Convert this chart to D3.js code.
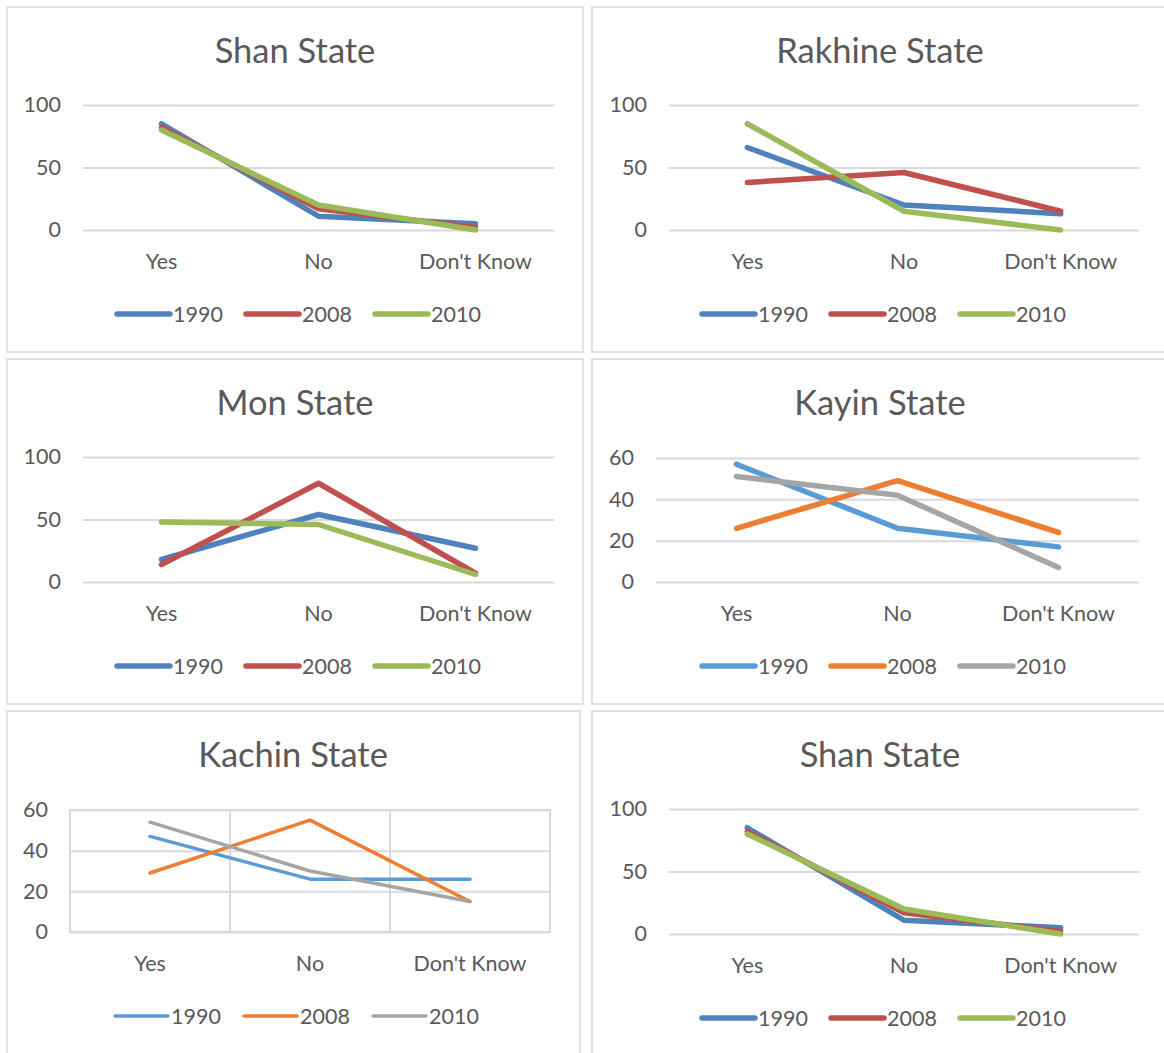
<!DOCTYPE html>
<html>
<head>
<meta charset="utf-8">
<script src="https://cdn.jsdelivr.net/npm/d3@7"></script>
<style>
  html, body { margin: 0; padding: 0; background: #ffffff; }
  svg { display: block; }
  text { font-family: "Lato", "Noto Sans", sans-serif; fill: #595959; }
</style>
</head>
<body>
<svg id="chart" width="1164" height="1053"></svg>
<script>
// Survey answers per state, three survey years
const categories = ["Yes", "No", "Don't Know"];
const years = ["1990", "2008", "2010"];

const shanValues    = [[85, 11, 5], [82, 17, 2], [80, 20, 0]];
const rakhineValues = [[66, 20, 13], [38, 46, 15], [85, 15, 0]];
const monValues     = [[18, 54, 27], [14, 79, 7], [48, 46, 6]];
const kayinValues   = [[57, 26, 17], [26, 49, 24], [51, 42, 7]];
const kachinValues  = [[47, 26, 26], [29, 55, 15], [54, 30, 15]];

const ticks100 = [0, 50, 100];
const ticks60  = [0, 20, 40, 60];

const paletteClassic = ["#4F81BD", "#C0504D", "#9BBB59"];
const paletteModern  = ["#5B9BD5", "#ED7D31", "#A5A5A5"];

// Layout of each panel (frame, plot area, text rows)
const panels = [
  { title: "Shan State",    values: shanValues,    ticks: ticks100, colors: paletteClassic, lw: 5.5,
    box: [7, 7, 576, 345],   plot: [83, 554, 105, 230],  titleY: 51,  labelY: 261, legendY: 314, cx: 299, boxed: false },
  { title: "Rakhine State", values: rakhineValues, ticks: ticks100, colors: paletteClassic, lw: 5.5,
    box: [592, 7, 580, 345], plot: [669, 1139, 105, 230], titleY: 51,  labelY: 261, legendY: 314, cx: 884, boxed: false },
  { title: "Mon State",     values: monValues,     ticks: ticks100, colors: paletteClassic, lw: 5.5,
    box: [7, 359, 576, 345], plot: [83, 554, 457, 582],  titleY: 403, labelY: 613, legendY: 666, cx: 299, boxed: false },
  { title: "Kayin State",   values: kayinValues,   ticks: ticks60,  colors: paletteModern,  lw: 5.5,
    box: [592, 359, 580, 345], plot: [656, 1139, 458, 582], titleY: 403, labelY: 613, legendY: 666, cx: 884, boxed: false },
  { title: "Kachin State",  values: kachinValues,  ticks: ticks60,  colors: paletteModern,  lw: 3.5,
    box: [7, 711, 573, 360], plot: [70, 550, 810, 932],  titleY: 755, labelY: 963, legendY: 1016, cx: 297, boxed: true },
  { title: "Shan State",    values: shanValues,    ticks: ticks100, colors: paletteClassic, lw: 5.5,
    box: [592, 711, 580, 360], plot: [669, 1139, 809, 934], titleY: 755, labelY: 965, legendY: 1018, cx: 884, boxed: false }
];

const svg = d3.select("#chart");
const grid = "#D9D9D9";
const titleSize = "34.5px";
const labelSize = "21.5px";

panels.forEach(p => {
  const g = svg.append("g");
  const [bx, by, bw, bh] = p.box;
  const [x0, x1, yTop, yBot] = p.plot;

  // panel frame
  g.append("rect")
    .attr("x", bx).attr("y", by).attr("width", bw).attr("height", bh)
    .attr("fill", "#fff").attr("stroke", grid).attr("stroke-width", 1.5);

  const x = d3.scaleBand().domain(categories).range([x0, x1]);
  const xc = c => x(c) + x.bandwidth() / 2;
  const y = d3.scaleLinear().domain([0, d3.max(p.ticks)]).range([yBot, yTop]);

  // title
  g.append("text")
    .attr("x", p.cx - 4)
    .attr("y", p.titleY).attr("dy", "0.35em")
    .attr("text-anchor", "middle")
    .style("font-size", titleSize)
    .text(p.title);

  // value axis with horizontal gridlines
  const yAxis = d3.axisLeft(y).tickValues(p.ticks).tickSize(-(x1 - x0)).tickPadding(22);
  const ya = g.append("g").attr("transform", `translate(${x0},0)`).call(yAxis);
  ya.select(".domain").remove();
  ya.selectAll(".tick line").attr("stroke", grid).attr("stroke-width", 2);
  ya.selectAll(".tick text").style("font-size", labelSize).attr("fill", "#595959");

  if (p.boxed) {
    // outlined plot area with vertical category gridlines
    g.append("rect")
      .attr("x", x0).attr("y", yTop).attr("width", x1 - x0).attr("height", yBot - yTop)
      .attr("fill", "none").attr("stroke", grid).attr("stroke-width", 2);
    g.selectAll(".vgrid").data(categories.slice(1)).join("line")
      .attr("x1", d => x(d)).attr("x2", d => x(d))
      .attr("y1", yTop).attr("y2", yBot)
      .attr("stroke", grid).attr("stroke-width", 2);
  }

  // category labels
  const xAxis = d3.axisBottom(x).tickSize(0).tickPadding(0);
  const xa = g.append("g").attr("transform", `translate(0,${p.labelY})`).call(xAxis);
  xa.select(".domain").remove();
  xa.selectAll(".tick text").attr("y", 0).attr("dy", "0.35em")
    .style("font-size", labelSize).attr("fill", "#595959");

  // series lines
  const line = d3.line().x((d, i) => xc(categories[i])).y(d => y(d));
  p.values.forEach((vals, si) => {
    g.append("path")
      .datum(vals)
      .attr("d", line)
      .attr("fill", "none")
      .attr("stroke", p.colors[si])
      .attr("stroke-width", p.lw)
      .attr("stroke-linecap", "round")
      .attr("stroke-linejoin", "round");
  });

  // legend
  const step = 129, sample = 53;
  const startX = p.cx - 182;
  years.forEach((yr, si) => {
    const lx = startX + si * step;
    g.append("line")
      .attr("x1", lx).attr("x2", lx + sample)
      .attr("y1", p.legendY).attr("y2", p.legendY)
      .attr("stroke", p.colors[si]).attr("stroke-width", p.lw)
      .attr("stroke-linecap", "round");
    g.append("text")
      .attr("x", lx + sample + 3).attr("y", p.legendY).attr("dy", "0.35em")
      .style("font-size", labelSize)
      .text(yr);
  });
});
</script>
</body>
</html>
